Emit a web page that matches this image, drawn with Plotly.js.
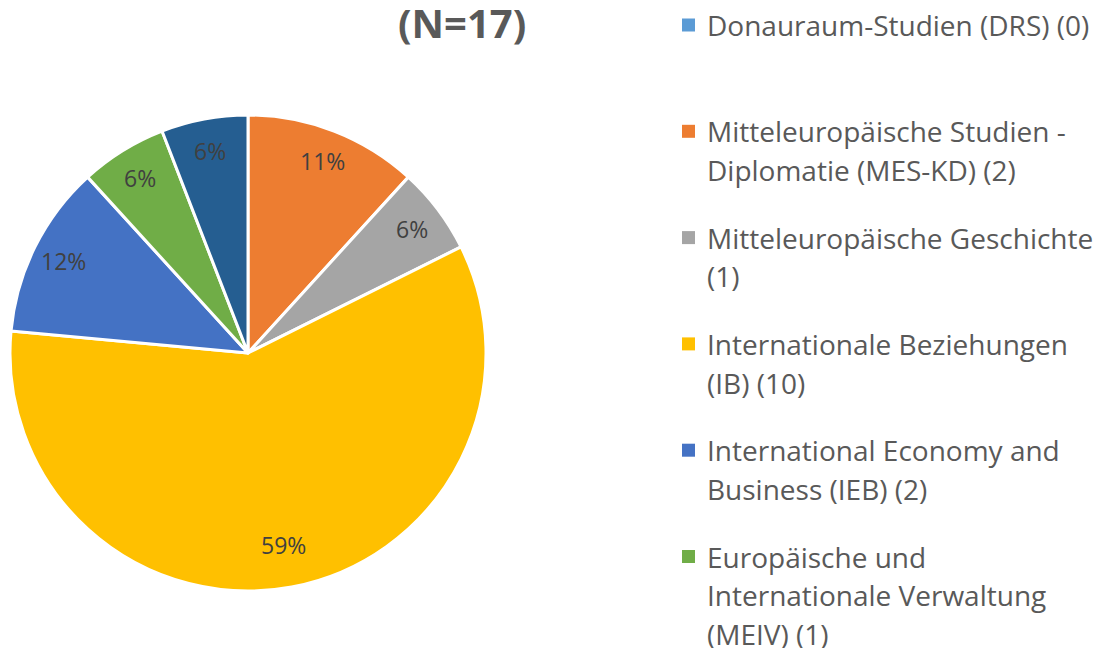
<!DOCTYPE html>
<html>
<head>
<meta charset="utf-8">
<script src="https://cdn.plot.ly/plotly-3.0.1.min.js"></script>
<style>html,body{margin:0;padding:0;background:#fff;}#chart{width:1109px;height:648px;}</style>
</head>
<body>
<div id="chart"></div>
<script>
// ---- data ----
const titleText = "(N=17)";
const categories = [
  "Donauraum-Studien (DRS)",
  "Mitteleuropäische Studien -|Diplomatie (MES-KD)",
  "Mitteleuropäische Geschichte|",
  "Internationale Beziehungen|(IB)",
  "International Economy and|Business (IEB)",
  "Europäische und|Internationale Verwaltung|(MEIV)",
  "Sonstige"
];
const counts = [0, 2, 1, 10, 2, 1, 1];
const percentLabels = ["", "11%", "6%", "59%", "12%", "6%", "6%"];
const colors = ["#5B9BD5", "#ED7D31", "#A5A5A5", "#FFC000", "#4472C4", "#70AD47", "#255E91"];

// ---- layout helpers ----
const W = 1109, H = 648;
const px = x => x / W;
const py = y => 1 - y / H;
const FONT = "Open Sans, Noto Sans, sans-serif";

// pie geometry (pixels)
const pieL = 10, pieR = 486, pieT = 115, pieB = 591;
const cx = (pieL + pieR) / 2, cy = (pieT + pieB) / 2, R = (pieR - pieL) / 2;

const legendLabels = categories.map((c, i) => (c + " (" + counts[i] + ")").replace("| (", "|("));

const annotations = [{
  text: "<b>" + titleText + "</b>",
  xref: "paper", yref: "paper", x: px(462), y: py(22),
  xanchor: "center", yanchor: "middle", showarrow: false,
  font: {family: FONT, size: 40, color: "#595959"}
}];
const shapes = [];
const entryStep = 106.3, lineStep = 38.8, firstY = 25;
legendLabels.forEach((lab, i) => {
  const y0 = firstY + i * entryStep;
  if (y0 > H - 10) return; // entry falls below the visible area
  shapes.push({
    type: "rect", xref: "paper", yref: "paper",
    x0: px(682), x1: px(695), y0: py(y0 - 6.5), y1: py(y0 + 6.5),
    fillcolor: colors[i], line: {width: 0}
  });
  lab.split("|").forEach((line, j) => {
    annotations.push({
      text: line.trim(), xref: "paper", yref: "paper",
      x: px(705), y: py(y0 + j * lineStep),
      xanchor: "left", yanchor: "middle", showarrow: false,
      font: {family: FONT, size: 28, color: "#595959"}
    });
  });
});

// percent labels placed at each slice's mid-angle (computed from the data)
const total = counts.reduce((a, b) => a + b, 0);
let cum = 0;
counts.forEach((v, i) => {
  const mid = (cum + v / 2) / total * 2 * Math.PI;
  cum += v;
  if (!percentLabels[i]) return;
  const rf = v / total > 0.5 ? 0.82 : 0.865;
  const x = cx + rf * R * Math.sin(mid);
  const y = cy - rf * R * Math.cos(mid);
  annotations.push({
    text: percentLabels[i], xref: "paper", yref: "paper",
    x: px(x), y: py(y), xanchor: "center", yanchor: "middle", showarrow: false,
    font: {family: FONT, size: 23, color: "#404040"}
  });
});

const trace = {
  type: "pie",
  labels: categories.map(c => c.replace(/\|/g, " ")),
  values: counts,
  textinfo: "none",
  sort: false,
  direction: "clockwise",
  rotation: 0,
  marker: {colors: colors, line: {color: "#FFFFFF", width: 3}},
  domain: {x: [px(pieL), px(pieR)], y: [py(pieB), py(pieT)]},
  hoverinfo: "label+value+percent",
  showlegend: false
};

const layout = {
  width: W, height: H,
  margin: {l: 0, r: 0, t: 0, b: 0},
  paper_bgcolor: "#FFFFFF",
  showlegend: false,
  annotations: annotations,
  shapes: shapes,
  font: {family: FONT}
};

Plotly.newPlot("chart", [trace], layout, {displayModeBar: false, staticPlot: true});
</script>
</body>
</html>
